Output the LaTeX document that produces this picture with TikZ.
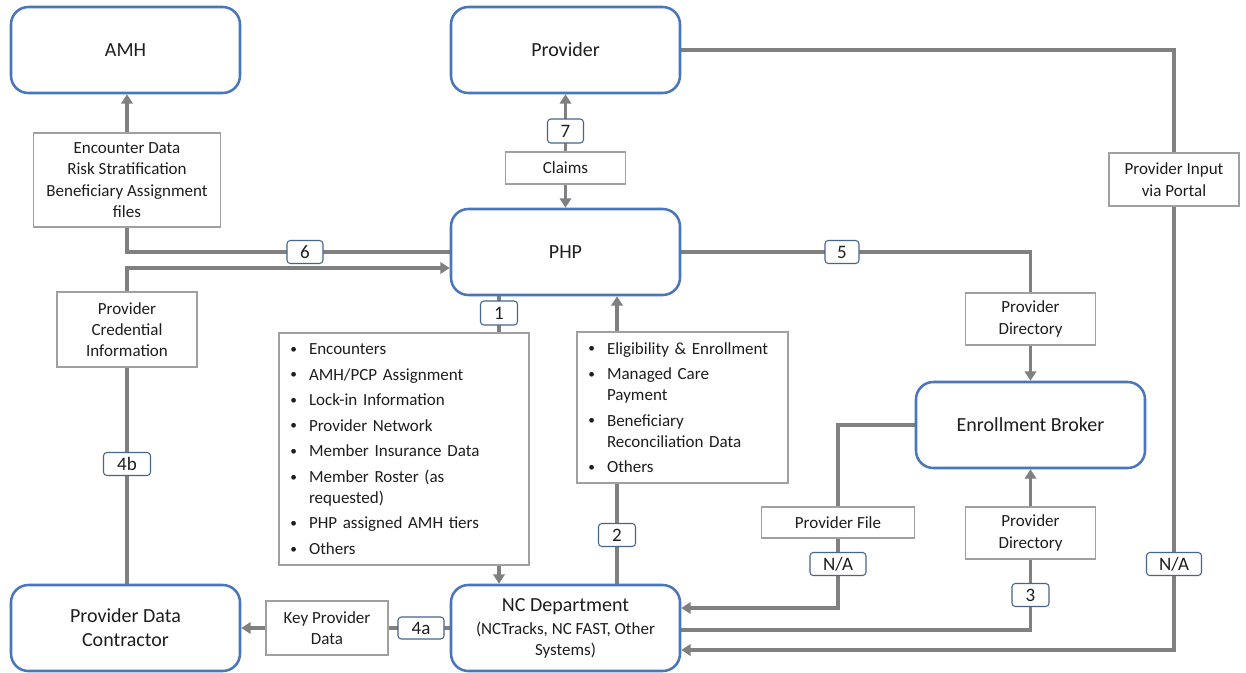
\documentclass[tikz,border=0pt]{standalone}
\usepackage{fontspec}
\setmainfont{Carlito}
\usetikzlibrary{arrows.meta,calc}
\pgfdeclarelayer{background}
\pgfsetlayers{background,main}
\definecolor{mainblue}{RGB}{74,118,188}
\definecolor{numblue}{RGB}{70,100,140}
\definecolor{lblgray}{RGB}{160,160,160}
\definecolor{conngray}{RGB}{128,128,128}
\definecolor{txt}{RGB}{30,30,30}
\newcommand\smallbullet{\raisebox{0.9pt}{\fontsize{10pt}{10pt}\selectfont\textbullet}}
\newcommand\blt[1]{\hangindent=22.5pt\hangafter=1\noindent\makebox[22.5pt][l]{\hspace{8.5pt}\smallbullet}#1\par}
\begin{document}
\begin{tikzpicture}[x=0.75pt,y=-0.75pt,
  every node/.style={text=txt},
  sz/.style 2 args={minimum width=#1*0.75pt, minimum height=#2*0.75pt},
  mainbox/.style={draw=mainblue, line width=1.9pt, rounded corners=13pt, fill=white, sz={229}{86}, align=center, font=\fontsize{15pt}{18pt}\selectfont, inner sep=2pt},
  lbl/.style={draw=lblgray, line width=0.8pt, fill=white, align=center, font=\fontsize{12.75pt}{16pt}\selectfont, inner sep=0pt},
  num/.style={draw=numblue, line width=0.8pt, fill=white, rounded corners=2.5pt, font=\fontsize{14.25pt}{16pt}\selectfont, inner sep=0pt},
  lst/.style={lbl, align=left, inner sep=0pt, font=\fontsize{12.75pt}{15.75pt}\selectfont},
  conn/.style={draw=conngray, line width=2.6pt},
  arr/.style={conn, -{Triangle[width=8.5pt,length=7pt]}},
  arrb/.style={conn, {Triangle[width=8.5pt,length=7pt]}-{Triangle[width=8.5pt,length=7pt]}}]
\useasboundingbox (0,0) rectangle (1246,672);
% main boxes
\node[mainbox] (amh) at (125.5,50) {AMH};
\node[mainbox] (prov) at (565.5,50) {Provider};
\node[mainbox] (php) at (565.5,252) {PHP};
\node[mainbox] (eb) at (1030.5,425) {Enrollment Broker};
\node[mainbox] (pdc) at (125.5,628) {Provider Data\\Contractor};
\node[mainbox] (nc) at (565.5,628) {NC Department\\[-0.75pt]{\fontsize{12.75pt}{15.75pt}\selectfont (NCTracks, NC FAST, Other}\\[-2.25pt]{\fontsize{12.75pt}{15.75pt}\selectfont Systems)}};
% label boxes
\node[lbl, sz={187}{94}] (enc) at (127,180) {Encounter Data\\Risk Stratification\\Beneficiary Assignment\\files};
\node[lbl, sz={140}{75}] (cred) at (127,329.5) {Provider\\Credential\\Information};
\node[lbl, sz={120}{32}] (claims) at (565.5,168) {Claims};
\node[lbl, sz={122}{54}] (keyd) at (327,628) {Key Provider\\Data};
\node[lbl, sz={130}{52}] (dir1) at (1030.5,319) {Provider\\Directory};
\node[lbl, sz={130}{52}] (dir2) at (1030.5,533) {Provider\\Directory};
\node[lbl, sz={153}{31}] (pfile) at (838,522.5) {Provider File};
\node[lbl, sz={130}{53}] (portal) at (1174,179.5) {Provider Input\\via Portal};
% lists
\node[lst, text width=187.5pt, minimum height=174pt] (lst1) at (404,449) {\setlength{\parskip}{3.4pt}%
\blt{Encounters}\blt{AMH/PCP Assignment}\blt{Lock-in Information}\blt{Provider Network}\blt{Member Insurance Data}\blt{Member Roster (as\newline requested)}\blt{PHP assigned AMH tiers}\blt{Others}};
\node[lst, text width=158.25pt, minimum height=113.25pt] (lst2) at (682.5,407.5) {\setlength{\parskip}{3.4pt}%
\blt{Eligibility \& Enrollment}\blt{Managed Care\newline Payment}\blt{Beneficiary\newline Reconciliation Data}\blt{Others}};
% number labels
\node[num, sz={36}{23}] (n6) at (305,252) {6};
\node[num, sz={36}{24}] (n7) at (565.5,131) {7};
\node[num, sz={34}{23}] (n5) at (842,252) {5};
\node[num, sz={37}{24}] (n1) at (499,313) {1};
\node[num, sz={37}{23}] (n2) at (617,535) {2};
\node[num, sz={37}{23}] (n3) at (1030.5,595) {3};
\node[num, sz={47}{23}] (n4b) at (127,464) {4b};
\node[num, sz={46}{22}] (n4a) at (421,628) {4a};
\node[num, sz={56}{23}] (na1) at (838,564) {N/A};
\node[num, sz={55}{23}] (na2) at (1174,564) {N/A};
% connectors
\begin{pgfonlayer}{background}
\fill[white] (0,0) rectangle (1246,672);
\draw[conn] (php.west) -- (enc.south |- php.west) -- (enc.south);
\draw[arr] (enc.north) -- (enc.north |- amh.south);
\coordinate (phpin) at ($(php.west)+(0,16)$);
\draw[arr] (cred.north) |- (phpin);
\draw[conn] (cred.south) -- (cred.south |- pdc.north);
\draw[conn] (nc.west) -- (keyd.east);
\draw[arr] (keyd.west) -- (pdc.east);
\draw[arrb] (prov.south) -- (php.north);
\draw[conn] (php.east) -| (dir1.north);
\draw[arr] (dir1.south) -- (eb.north);
\draw[conn] (prov.east) -| (portal.north);
\coordinate (ncin3) at ($(nc.east)+(0,22)$);
\draw[arr] (portal.south) |- (ncin3);
\draw[conn] (eb.west) -| (pfile.north);
\coordinate (ncin1) at ($(nc.east)+(0,-20)$);
\draw[arr] (pfile.south) |- (ncin1);
\draw[arr] (dir2.north) -- (eb.south);
\coordinate (ncout) at ($(nc.east)+(0,2)$);
\draw[conn] (dir2.south) |- (ncout);
\draw[conn] (n1 |- php.south) -- (n1 |- lst1.north);
\draw[arr] (n1 |- lst1.south) -- (n1 |- nc.north);
\draw[conn] (n2 |- nc.north) -- (n2 |- lst2.south);
\draw[arr] (n2 |- lst2.north) -- (n2 |- php.south);
\end{pgfonlayer}
\end{tikzpicture}
\end{document}
